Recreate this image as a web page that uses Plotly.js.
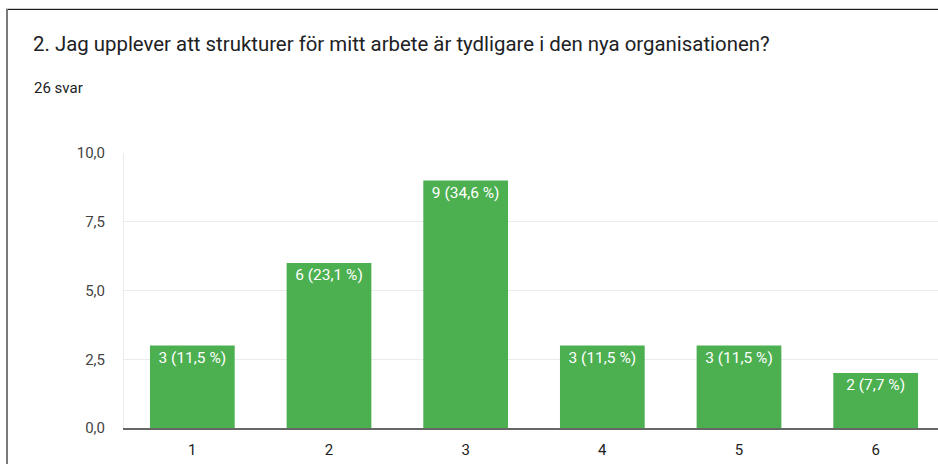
<!DOCTYPE html>
<html>
<head>
<meta charset="utf-8">
<script src="https://cdn.plot.ly/plotly-3.0.1.min.js"></script>
<style>
  html, body { margin: 0; padding: 0; width: 938px; height: 464px; overflow: hidden; background: #fff; }
  #frameTop { position: absolute; left: 6px; top: 8px; width: 940px; height: 0; border-top: 1px solid #d0d0d0; }
  #frameTop2 { position: absolute; left: 6px; top: 9px; width: 940px; height: 0; border-top: 1px solid #1a1a1a; }
  #frameLeft { position: absolute; left: 6px; top: 9px; width: 0; height: 460px; border-left: 2px solid #7a7a7a; }
  #chart { position: absolute; left: 0; top: 0; width: 960px; height: 464px; }
</style>
</head>
<body>
<div id="chart"></div>
<div id="frameTop"></div>
<div id="frameTop2"></div>
<div id="frameLeft"></div>
<script>
const titleText = "2. Jag upplever att strukturer för mitt arbete är tydligare i den nya organisationen?";
const subtitleText = "26 svar";
const categories = ["1", "2", "3", "4", "5", "6"];
const counts = [3, 6, 9, 3, 3, 2];
const totalResponses = 26;
const yTickValues = [0, 2.5, 5, 7.5, 10];

const barLabels = counts.map(c => c + " (" + (c / totalResponses * 100).toFixed(1).replace(".", ",") + " %)");

const W = 960, H = 464;
const mL = 123.7, mR = W - 943.6, mT = 153, mB = H - 428;

const trace = {
  type: "bar",
  x: categories,
  y: counts,
  text: barLabels,
  textposition: "inside",
  insidetextanchor: "end",
  textangle: 0,
  textfont: { family: "Roboto, Arial, sans-serif", size: 15.5, color: "#ffffff" },
  marker: { color: "#4caf50", line: { width: 0 } },
  width: 0.62,
  hoverinfo: "none",
  cliponaxis: false
};

const layout = {
  width: W,
  height: H,
  margin: { l: mL, r: mR, t: mT, b: mB, pad: 0 },
  paper_bgcolor: "#ffffff",
  plot_bgcolor: "#ffffff",
  showlegend: false,
  separators: ", ",
  font: { family: "Roboto, Arial, sans-serif", color: "#444444" },
  title: {
    text: titleText,
    font: { family: "Roboto, Arial, sans-serif", size: 20.4, color: "#202124" },
    xref: "container", yref: "container",
    x: 33 / W, xanchor: "left",
    y: 1 - 44 / H, yanchor: "middle"
  },
  annotations: [{
    text: subtitleText,
    xref: "paper", yref: "paper",
    x: (32 - mL) / (W - mL - mR), xanchor: "left",
    y: (428 - 88) / (428 - 153), yanchor: "middle",
    showarrow: false,
    font: { family: "Roboto, Arial, sans-serif", size: 15, color: "#202124" }
  }],
  xaxis: {
    type: "category",
    tickvals: categories,
    ticktext: categories,
    showgrid: false,
    showline: true,
    linecolor: "#666666",
    linewidth: 2,
    ticks: "",
    tickfont: { family: "Roboto, Arial, sans-serif", size: 15, color: "#222222" },
    ticklabelstandoff: 7,
    range: [-0.5, 5.5],
    fixedrange: true
  },
  yaxis: {
    range: [0, 10],
    tickvals: yTickValues,
    tickformat: ".1f",
    showgrid: true,
    gridcolor: "#ebebeb",
    gridwidth: 1,
    zeroline: false,
    showline: true,
    linecolor: "#ebebeb",
    linewidth: 1,
    ticks: "",
    ticklabelstandoff: 15,
    tickfont: { family: "Roboto, Arial, sans-serif", size: 15, color: "#444444" },
    fixedrange: true
  },
  bargap: 0.38
};

Plotly.newPlot("chart", [trace], layout, { displayModeBar: false, staticPlot: true });
</script>
</body>
</html>
